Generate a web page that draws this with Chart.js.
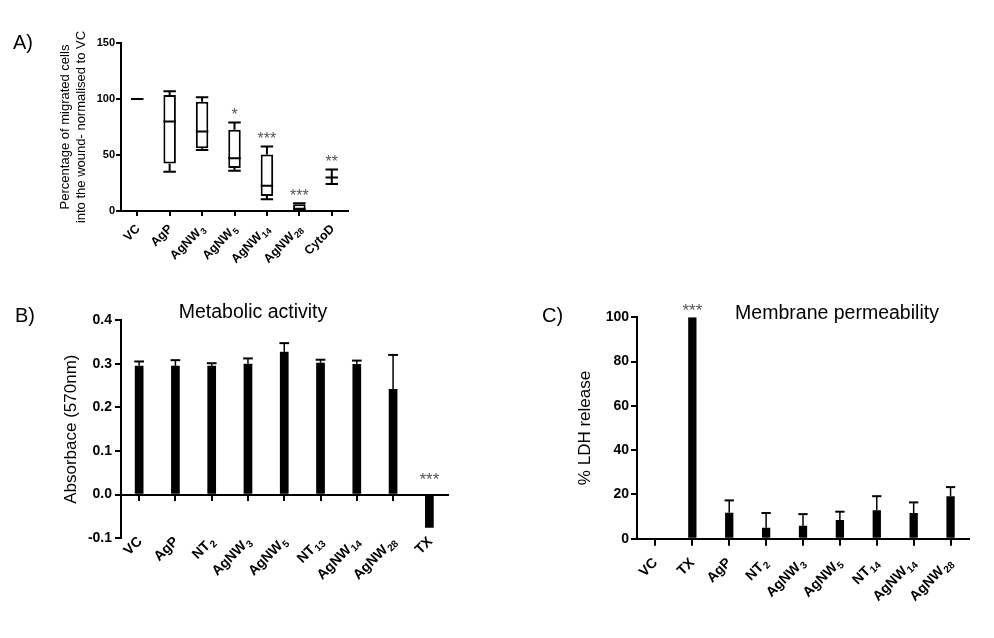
<!DOCTYPE html>
<html>
<head>
<meta charset="utf-8">
<script src="https://cdn.jsdelivr.net/npm/chart.js@4"></script>
<style>
  html, body { margin: 0; padding: 0; background: #fff; }
  #wrap { position: relative; width: 994px; height: 638px; }
  #wrap canvas { position: absolute; left: 0; top: 0; }
</style>
</head>
<body>
<div id="wrap">
  <canvas id="chartA" width="994" height="638"></canvas>
  <canvas id="chartB" width="994" height="638"></canvas>
  <canvas id="chartC" width="994" height="638"></canvas>
</div>
<script>
// A) migration into the wound, box plots (min, q1, median, q3, max)
const catsA = ['VC', 'AgP', 'AgNW3', 'AgNW5', 'AgNW14', 'AgNW28', 'CytoD'];
const minA = [100, 35, 54.5, 36, 10.5, 0.5, 24];
const q1A = [100, 42.5, 56, 38.5, 13.5, 1, 30];
const medA = [100, 80, 71, 47, 22.5, 2, 30];
const q3A = [100, 103.5, 97.5, 72.5, 50.5, 6, 30];
const maxA = [100, 107, 101.5, 79, 57.5, 7, 37];
const starsA = ['', '', '', '*', '***', '***', '**'];

// B) metabolic activity, mean + SEM
const catsB = ['VC', 'AgP', 'NT2', 'AgNW3', 'AgNW5', 'NT13', 'AgNW14', 'AgNW28', 'TX'];
const valuesB = [0.295, 0.295, 0.295, 0.300, 0.327, 0.302, 0.299, 0.242, -0.076];
const errB = [0.010, 0.013, 0.006, 0.012, 0.020, 0.007, 0.008, 0.078, 0];
const starsB = ['', '', '', '', '', '', '', '', '***'];

// C) membrane permeability, mean + SEM
const catsC = ['VC', 'TX', 'AgP', 'NT2', 'AgNW3', 'AgNW5', 'NT14', 'AgNW14', 'AgNW28'];
const valuesC = [0, 100, 11.7, 5.0, 5.9, 8.4, 12.9, 11.6, 19.2];
const errC = [0, 0, 5.6, 6.6, 5.2, 3.8, 6.3, 4.8, 4.1];
const starsC = ['', '***', '', '', '', '', '', '', ''];

const FONT = "'Liberation Sans', Arial, Helvetica, sans-serif";
Chart.defaults.font.family = FONT;
Chart.defaults.color = '#000';

// fixed axis sizes so the plot areas land where the figure has them
const fixY = w => s => { s.width = w; s.paddingTop = 0; s.paddingBottom = 0; };
const fixX = h => s => { s.height = h; s.paddingLeft = 0; s.paddingRight = 0; };

// category label, trailing digits drawn as subscript, rotated 45deg
function drawCatLabel(ctx, text, x, y, size) {
    const m = text.match(/^(.*?)(\d+)$/);
    const main = m ? m[1] : text;
    const sub = m ? m[2] : '';
    const mainFont = `bold ${size}px ${FONT}`;
    const subFont = `bold ${Math.round(size * 0.68)}px ${FONT}`;
    ctx.save();
    ctx.translate(x, y);
    ctx.rotate(-Math.PI / 4);
    ctx.textAlign = 'left';
    ctx.textBaseline = 'middle';
    ctx.font = mainFont;
    const wMain = ctx.measureText(main).width;
    ctx.font = subFont;
    const wSub = sub ? ctx.measureText(sub).width + 1 : 0;
    ctx.font = mainFont;
    ctx.fillText(main, -(wMain + wSub), 0);
    if (sub) {
        ctx.font = subFont;
        ctx.fillText(sub, -wSub + 1, size * 0.3);
    }
    ctx.restore();
}

const extras = {
    id: 'extras',
    afterDraw(chart, args, opts) {
        const ctx = chart.ctx;
        const xs = chart.scales.x;
        const ys = chart.scales.y;
        const meta = chart.getDatasetMeta(0);
        const data = chart.data.datasets[0].data;
        ctx.save();
        ctx.strokeStyle = '#000';
        ctx.fillStyle = '#000';

        // whiskers + medians for the box plot
        if (opts.box) {
            const b = opts.box;
            meta.data.forEach((el, i) => {
                const x = el.x, hw = el.width / 2;
                const py = v => ys.getPixelForValue(v);
                ctx.lineWidth = 2;
                ctx.beginPath();
                ctx.moveTo(x, py(b.q3[i])); ctx.lineTo(x, py(b.max[i]));
                ctx.moveTo(x, py(b.q1[i])); ctx.lineTo(x, py(b.min[i]));
                ctx.moveTo(x - hw, py(b.max[i])); ctx.lineTo(x + hw, py(b.max[i]));
                ctx.moveTo(x - hw, py(b.min[i])); ctx.lineTo(x + hw, py(b.min[i]));
                ctx.moveTo(x - hw, py(b.med[i])); ctx.lineTo(x + hw, py(b.med[i]));
                ctx.stroke();
            });
        }

        // upper SEM bars
        if (opts.err) {
            meta.data.forEach((el, i) => {
                const e = opts.err[i];
                if (!e) return;
                const v = data[i];
                const x = el.x, hw = el.width / 2 + 0.5;
                const y0 = ys.getPixelForValue(v);
                const y1 = ys.getPixelForValue(v >= 0 ? v + e : v - e);
                ctx.lineWidth = 1.5;
                ctx.beginPath();
                ctx.moveTo(x, y0); ctx.lineTo(x, y1);
                ctx.stroke();
                ctx.lineWidth = 2;
                ctx.beginPath();
                ctx.moveTo(x - hw, y1); ctx.lineTo(x + hw, y1);
                ctx.stroke();
            });
        }

        // significance stars
        if (opts.stars) {
            ctx.fillStyle = '#555';
            ctx.font = `${opts.starSize}px ${FONT}`;
            ctx.textAlign = 'center';
            ctx.textBaseline = 'alphabetic';
            opts.stars.forEach((s, i) => {
                if (!s) return;
                const y = ys.getPixelForValue(opts.starBase[i]) - opts.starGap;
                ctx.fillText(s, xs.getPixelForValue(i), y);
            });
            ctx.fillStyle = '#000';
        }

        // category labels
        chart.data.labels.forEach((lab, i) => {
            drawCatLabel(ctx, lab, xs.getPixelForValue(i) + opts.labelDx,
                chart.chartArea.bottom + opts.labelDy, opts.labelSize);
        });

        // panel title and letter
        ctx.textBaseline = 'alphabetic';
        if (opts.title) {
            ctx.font = `19.5px ${FONT}`;
            ctx.textAlign = 'center';
            ctx.fillText(opts.title.text, opts.title.x, opts.title.y);
        }
        ctx.font = `20px ${FONT}`;
        ctx.textAlign = 'left';
        ctx.fillText(opts.letter.text, opts.letter.x, opts.letter.y);
        ctx.restore();
    }
};

const axisGrid = len => ({ drawOnChartArea: false, offset: false, tickLength: len, color: '#000', lineWidth: 2 });
const axisBorder = { color: '#000', width: 2 };

// A
new Chart(document.getElementById('chartA'), {
    type: 'bar',
    data: {
        labels: catsA,
        datasets: [{
            data: q1A.map((q, i) => [q, q3A[i]]),
            backgroundColor: '#fff',
            borderColor: '#000',
            borderWidth: 2,
            borderSkipped: false,
            barPercentage: 0.385,
            categoryPercentage: 1
        }]
    },
    options: {
        responsive: false,
        animation: false,
        devicePixelRatio: 1,
        layout: { padding: { left: 0, top: 43, right: 646, bottom: 417 } },
        plugins: {
            legend: { display: false },
            tooltip: { enabled: false },
            extras: {
                box: { min: minA, q1: q1A, med: medA, q3: q3A, max: maxA },
                stars: starsA, starBase: maxA, starGap: 2.5, starSize: 16,
                labelDx: 1, labelDy: 16, labelSize: 12.5,
                letter: { text: 'A)', x: 13, y: 49 }
            }
        },
        scales: {
            x: {
                grid: axisGrid(5),
                border: axisBorder,
                ticks: { display: false },
                afterFit: fixX(10)
            },
            y: {
                min: 0, max: 150,
                ticks: { stepSize: 50, padding: 1, font: { size: 11, weight: 'bold' } },
                grid: axisGrid(5),
                border: axisBorder,
                title: {
                    display: true,
                    text: ['Percentage of migrated cells', 'into the wound- normalised to VC'],
                    font: { size: 13, lineHeight: 1.23 },
                    padding: { top: 57.7, bottom: 0 }
                },
                afterFit: fixY(121)
            }
        }
    },
    plugins: [extras]
});

// B
new Chart(document.getElementById('chartB'), {
    type: 'bar',
    data: {
        labels: catsB,
        datasets: [{
            data: valuesB,
            backgroundColor: '#000',
            barPercentage: 0.24,
            categoryPercentage: 1
        }]
    },
    options: {
        responsive: false,
        animation: false,
        devicePixelRatio: 1,
        layout: { padding: { left: 0, top: 320, right: 546.5, bottom: 99.7 } },
        plugins: {
            legend: { display: false },
            tooltip: { enabled: false },
            extras: {
                err: errB,
                stars: starsB, starBase: valuesB.map((v, i) => Math.max(v + errB[i], 0)),
                starGap: 9.5, starSize: 17,
                labelDx: 1, labelDy: 1, labelSize: 14,
                title: { text: 'Metabolic activity', x: 253, y: 318 },
                letter: { text: 'B)', x: 15, y: 322 }
            }
        },
        scales: {
            x: {
                position: { y: 0 },
                grid: axisGrid(5),
                border: axisBorder,
                ticks: { display: false },
                afterFit: fixX(10)
            },
            y: {
                min: -0.1, max: 0.4,
                ticks: { stepSize: 0.1, padding: 3, font: { size: 14, weight: 'bold' }, callback: v => v.toFixed(1) },
                grid: axisGrid(6),
                border: axisBorder,
                title: {
                    display: true,
                    text: 'Absorbace (570nm)',
                    font: { size: 17 },
                    padding: { top: 61.5, bottom: 0 }
                },
                afterFit: fixY(121)
            }
        }
    },
    plugins: [extras]
});

// C
new Chart(document.getElementById('chartC'), {
    type: 'bar',
    data: {
        labels: catsC,
        datasets: [{
            data: valuesC,
            backgroundColor: '#000',
            barPercentage: 0.225,
            categoryPercentage: 1
        }]
    },
    options: {
        responsive: false,
        animation: false,
        devicePixelRatio: 1,
        layout: { padding: { left: 530, top: 317.3, right: 25, bottom: 89.3 } },
        plugins: {
            legend: { display: false },
            tooltip: { enabled: false },
            extras: {
                err: errC,
                stars: starsC, starBase: valuesC.map((v, i) => v + errC[i]),
                starGap: 1.8, starSize: 17,
                labelDx: 0, labelDy: 22, labelSize: 14,
                title: { text: 'Membrane permeability', x: 837, y: 319 },
                letter: { text: 'C)', x: 542, y: 322 }
            }
        },
        scales: {
            x: {
                grid: axisGrid(7),
                border: axisBorder,
                ticks: { display: false },
                afterFit: fixX(10)
            },
            y: {
                min: 0, max: 100,
                ticks: { stepSize: 20, padding: 2, font: { size: 14, weight: 'bold' } },
                grid: axisGrid(6),
                border: axisBorder,
                title: {
                    display: true,
                    text: '% LDH release',
                    font: { size: 17 },
                    padding: { top: 44.8, bottom: 0 }
                },
                afterFit: fixY(107)
            }
        }
    },
    plugins: [extras]
});
</script>
</body>
</html>
